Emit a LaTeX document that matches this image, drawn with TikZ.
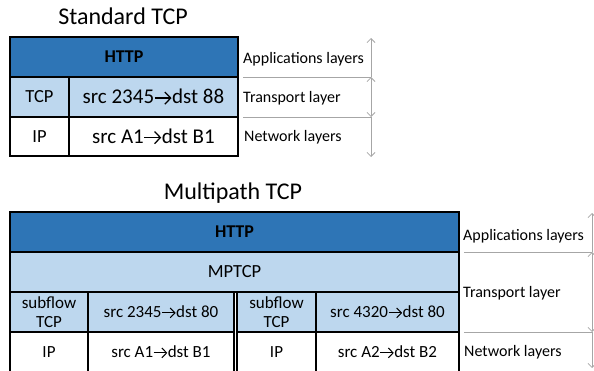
\documentclass[tikz,border=0pt]{standalone}
\usepackage{fontspec}
\setmainfont{Carlito}
\usetikzlibrary{positioning, arrows.meta}

\definecolor{httpblue}{HTML}{2E75B6}
\definecolor{tcpblue}{HTML}{BDD7EE}
\definecolor{layergray}{HTML}{A6A6A6}

% thin arrow between source and destination
\newcommand{\flowto}{\tikz[baseline=0pt]\draw[black, line width=0.06em,
    -{Straight Barb[length=0.28em,width=0.58em]}] (0,0.27em) -- (0.8em,0.27em);}

\tikzset{cell/.style = {draw=black, line width=1.2pt, outer sep=0pt, inner sep=0pt,
    minimum height=40pt, align=center, font=\fontsize{17}{19}\selectfont}}
\tikzset{big cell/.style = {font=\fontsize{18.5}{21}\selectfont}}
\tikzset{addr cell/.style = {font=\fontsize{21}{23}\selectfont}}
\tikzset{app cell/.style = {cell, fill=httpblue, font=\fontsize{18}{20}\selectfont\bfseries}}
\tikzset{transport cell/.style = {cell, fill=tcpblue}}
\tikzset{net cell/.style = {cell, fill=white}}
\tikzset{title/.style = {font=\fontsize{24}{28}\selectfont}}
\tikzset{layer label/.style = {anchor=west, inner sep=0pt, font=\fontsize{16}{19}\selectfont}}
\tikzset{layer sep/.style = {draw=layergray, line width=0.8pt}}
\tikzset{barb/.tip = {Straight Barb[length=4pt,width=8pt]}}
\tikzset{layer span/.style = {draw=layergray, line width=0.8pt}}

\begin{document}
\begin{tikzpicture}[x=1pt, y=-1pt]
    \useasboundingbox (0,0) rectangle (594,370);
    \clip (0,0) rectangle (594,370);

      % single path stack
      \node[title] (stdTitle) at (123,16) {Standard TCP};

      \node[app cell, anchor=north west, minimum width=228pt] (httpStd) at (10,37) {HTTP};
      \node[transport cell, big cell, minimum width=59pt]
        (tcpStd) [below right=0pt and 0pt of httpStd.south west] {TCP};
      \node[transport cell, addr cell, minimum width=169pt]
        (portStd) [right=0pt of tcpStd] {src 2345\flowto dst 88};
      \node[net cell, big cell, minimum width=59pt, minimum height=39pt]
        (ipStd) [below=0pt of tcpStd] {IP};
      \node[net cell, addr cell, minimum width=169pt, minimum height=39pt]
        (addrStd) [right=0pt of ipStd] {src A1\flowto dst B1};

      \node[layer label] (appStd) at (243,59) {Applications layers};
      \node[layer label] (transStd) at (243,98) {Transport layer};
      \node[layer label] (netStd) at (244,137) {Network layers};

      \coordinate (sepStdA) at (243,77);
      \coordinate (sepStdB) at (243,117);
      \coordinate (spanStdTop) at (371,38);
      \coordinate (spanStdA) at (371,77);
      \coordinate (spanStdB) at (371,117);
      \coordinate (spanStdEnd) at (371,157);
      \path[layer sep] (sepStdA) -- (spanStdA);
      \path[layer sep] (sepStdB) -- (spanStdB);
      \path[layer span, -barb] (spanStdA) -- (spanStdTop);
      \path[layer span, barb-barb] (spanStdA) -- (spanStdB);
      \path[layer span, -barb] (spanStdB) -- (spanStdEnd);

      % multipath stack
      \node[title] (mpTitle) at (233,193) {Multipath TCP};

      \node[app cell, anchor=north west, minimum width=449pt] (httpMp) at (10,212) {HTTP};
      \node[transport cell, big cell, minimum width=449pt]
        (mptcp) [below=0pt of httpMp] {MPTCP};
      \node[transport cell, minimum width=78pt]
        (subA) [below right=0pt and 0pt of mptcp.south west] {subflow\\TCP};
      \node[transport cell, minimum width=146pt] (portA) [right=0pt of subA] {src 2345\flowto dst 80};
      \node[transport cell, minimum width=79pt] (subB) [right=3pt of portA] {subflow\\TCP};
      \node[transport cell, minimum width=143pt] (portB) [right=0pt of subB] {src 4320\flowto dst 80};
      \node[net cell, minimum width=78pt] (ipA) [below=0pt of subA] {IP};
      \node[net cell, minimum width=146pt] (addrA) [right=0pt of ipA] {src A1\flowto dst B1};
      \node[net cell, minimum width=79pt] (ipB) [below=0pt of subB] {IP};
      \node[net cell, minimum width=143pt] (addrB) [right=0pt of ipB] {src A2\flowto dst B2};

      \node[layer label] (appMp) at (463,236) {Applications layers};
      \node[layer label] (transMp) at (463,293) {Transport layer};
      \node[layer label] (netMp) at (464,352) {Network layers};

      \coordinate (sepMpA) at (464,252);
      \coordinate (sepMpB) at (464,332);
      \coordinate (spanMpTop) at (592,213);
      \coordinate (spanMpA) at (592,252);
      \coordinate (spanMpB) at (592,332);
      \coordinate (spanMpEnd) at (592,368);
      \path[layer sep] (sepMpA) -- (spanMpA);
      \path[layer sep] (sepMpB) -- (spanMpB);
      \path[layer span, -barb] (spanMpA) -- (spanMpTop);
      \path[layer span, barb-barb] (spanMpA) -- (spanMpB);
      \path[layer span, -barb] (spanMpB) -- (spanMpEnd);
\end{tikzpicture}
\end{document}
